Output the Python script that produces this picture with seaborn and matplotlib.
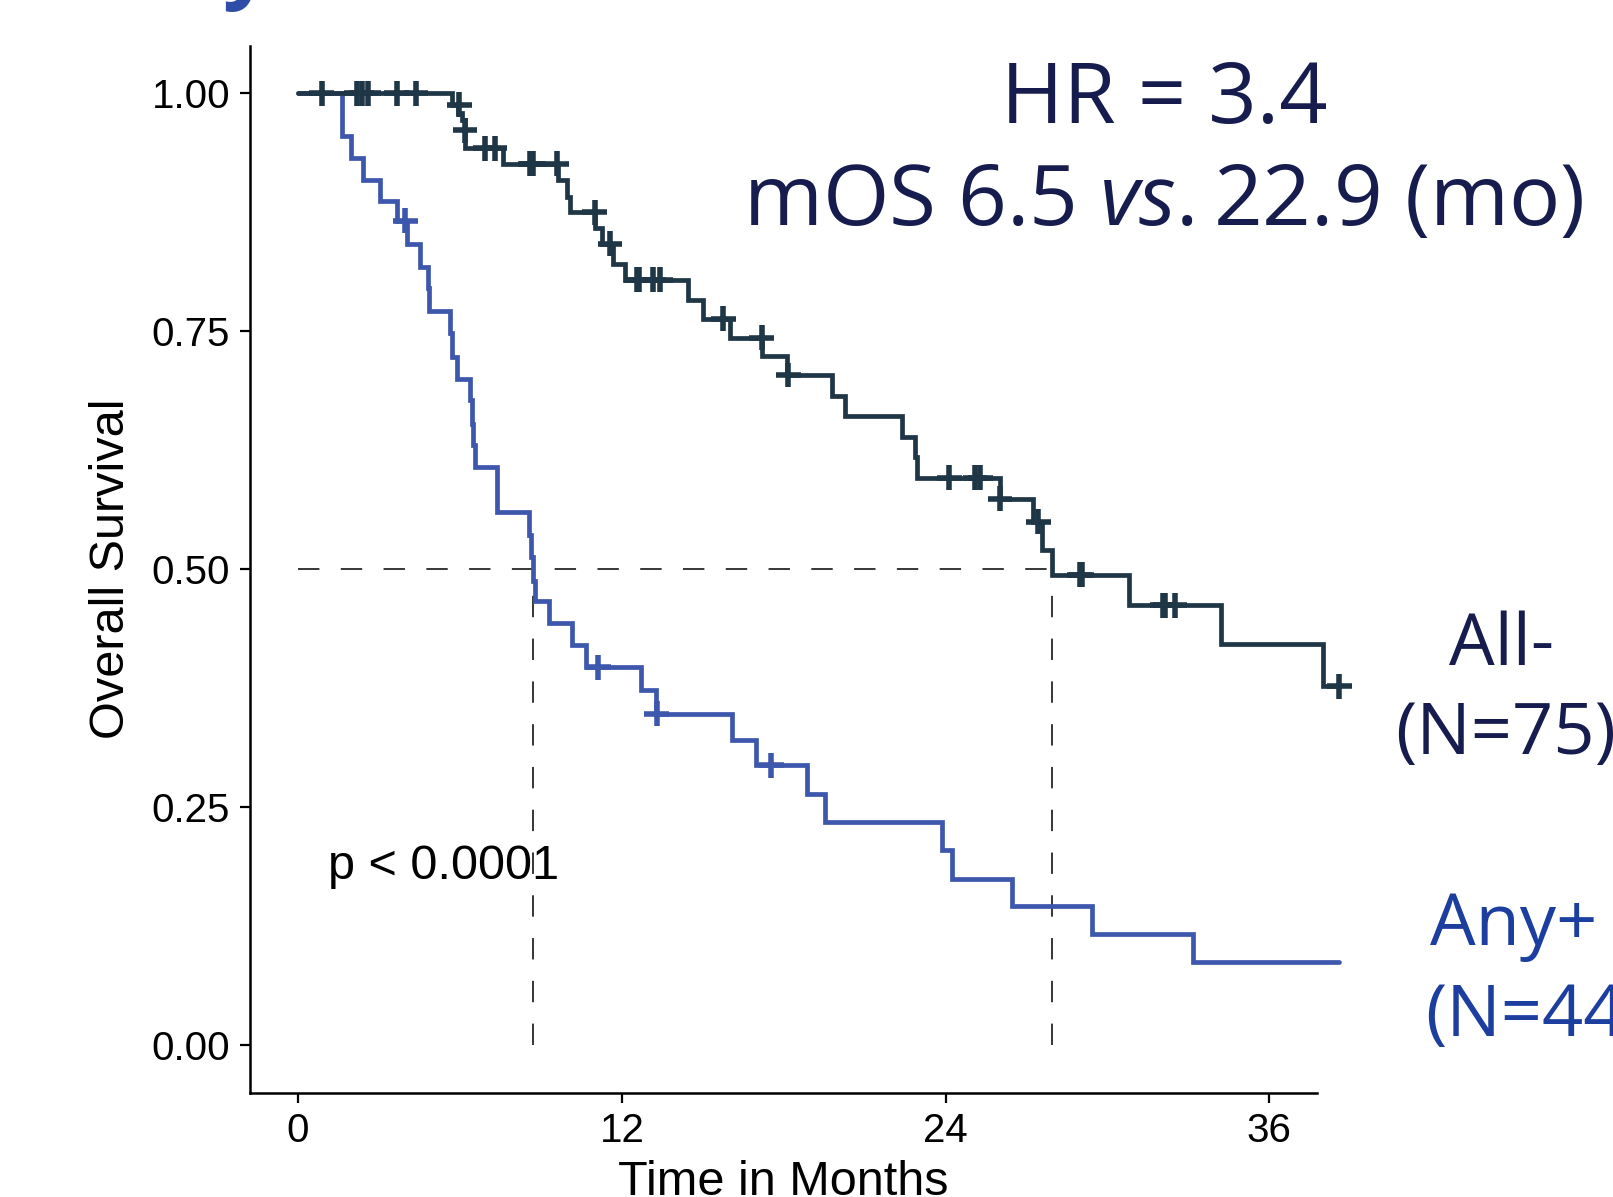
"""
Kaplan-Meier overall survival: Any+ vs All- (seaborn re-draw)
"""
import numpy as np
import pandas as pd
import matplotlib
matplotlib.use("Agg")
import matplotlib.pyplot as plt
from matplotlib.ticker import FormatStrFormatter
import seaborn as sns

# ── data (months, survival after each step)
t_any = [0, 1.62, 1.95, 2.42, 3.04, 3.68, 4.03, 4.52, 4.81, 4.86, 5.63, 5.70, 5.88,
         6.37, 6.43, 6.47, 6.56, 7.36, 8.57, 8.62, 8.70, 8.78, 9.31, 10.14, 10.67,
         12.70, 13.25, 16.10, 16.99, 18.85, 19.52, 23.88, 24.24, 26.47, 29.44, 33.17, 38.6]
s_any = [1.0, 0.955, 0.932, 0.909, 0.887, 0.866, 0.842, 0.818, 0.795, 0.771, 0.748, 0.723, 0.700,
         0.678, 0.653, 0.630, 0.607, 0.560, 0.536, 0.513, 0.488, 0.467, 0.443, 0.420, 0.397,
         0.373, 0.348, 0.321, 0.294, 0.264, 0.234, 0.205, 0.175, 0.146, 0.117, 0.087, 0.087]

t_all = [0, 5.70, 5.94, 6.07, 6.19, 7.61, 9.65, 9.96, 10.08, 11.02, 11.26, 11.69, 12.10,
         14.47, 15.00, 16.01, 17.21, 18.11, 19.80, 20.27, 22.40, 22.88, 22.93, 26.00,
         27.25, 27.56, 27.93, 30.80, 34.20, 38.00, 38.55]
s_all = [1.0, 0.988, 0.979, 0.972, 0.942, 0.926, 0.909, 0.891, 0.875, 0.858, 0.842, 0.821, 0.804,
         0.783, 0.763, 0.743, 0.724, 0.704, 0.682, 0.661, 0.639, 0.618, 0.596, 0.574,
         0.550, 0.520, 0.494, 0.462, 0.421, 0.377, 0.377]

# censoring ticks
c_any_t = [3.97, 11.13, 13.30, 17.54]
c_any_s = [0.866, 0.397, 0.348, 0.294]
c_all_t = [0.88, 2.18, 2.36, 2.61, 3.66, 4.37, 5.97, 6.19, 6.93, 7.30, 8.60, 8.66, 8.72, 9.59,
           11.00, 11.56, 12.55, 12.65, 13.17, 13.42, 15.76, 17.19, 18.17, 24.14, 25.09, 25.28,
           26.02, 27.43, 28.98, 29.05, 32.05, 32.15, 32.50, 38.60]
c_all_s = [1.0, 1.0, 1.0, 1.0, 1.0, 1.0, 0.988, 0.961, 0.942, 0.942, 0.926, 0.926, 0.926, 0.926,
           0.875, 0.842, 0.804, 0.804, 0.804, 0.804, 0.763, 0.743, 0.704, 0.596, 0.596, 0.596,
           0.574, 0.550, 0.494, 0.494, 0.462, 0.462, 0.462, 0.377]

median_any = 8.70
median_all = 27.93

C_ANY  = "#3d57ad"
C_ALL  = "#1f3646"
NAVY   = "#161c4e"
ROYAL  = "#1b3e9f"

curves = pd.concat([
    pd.DataFrame({"time": t_any, "surv": s_any, "group": "Any+"}),
    pd.DataFrame({"time": t_all, "surv": s_all, "group": "All-"}),
])
cens = pd.concat([
    pd.DataFrame({"time": c_any_t, "surv": c_any_s, "group": "Any+"}),
    pd.DataFrame({"time": c_all_t, "surv": c_all_s, "group": "All-"}),
])
pal = {"Any+": C_ANY, "All-": C_ALL}

sns.set_theme(style="ticks")
plt.rcParams["font.family"] = ["Liberation Sans", "DejaVu Sans"]
plt.rcParams["mathtext.fontset"] = "custom"
plt.rcParams["mathtext.rm"] = "Open Sans"
plt.rcParams["mathtext.it"] = "Open Sans:italic"

W, H = 1613, 1197
fig = plt.figure(figsize=(W / 100, H / 100), dpi=100)
ax = fig.add_axes([249.5 / W, 1 - 1092.7 / H, (1316.8 - 249.5) / W, (1092.7 - 45.7) / H])

# median guides
ax.plot([0, median_all], [0.5, 0.5], color="black", lw=1.1, dashes=(14, 14), zorder=1)
for m in (median_any, median_all):
    ax.plot([m, m], [0, 0.5], color="black", lw=1.1, dashes=(14, 14), zorder=1)
n_guides = len(ax.lines)

sns.lineplot(data=curves, x="time", y="surv", hue="group", palette=pal,
             drawstyle="steps-post", estimator=None, sort=False,
             legend=False, ax=ax, clip_on=False, zorder=2)
for ln in ax.lines[n_guides:]:
    ln.set_linewidth(3.4)
    ln.set_solid_joinstyle("miter")

sns.scatterplot(data=cens, x="time", y="surv", hue="group", palette=pal,
                marker="+", s=320, legend=False, ax=ax,
                clip_on=False, zorder=3)
for coll in ax.collections:
    coll.set_linewidth(4.0)

ax.set_xlim(-1.80, 37.76)
ax.set_ylim(-0.05, 1.05)
ax.set_xticks([0, 12, 24, 36])
ax.set_yticks([0, 0.25, 0.5, 0.75, 1.0])
ax.yaxis.set_major_formatter(FormatStrFormatter("%.2f"))
ax.tick_params(labelsize=29, length=7, width=1.6, pad=7, colors="black")
for s in ("left", "bottom"):
    ax.spines[s].set_linewidth(1.8)
    ax.spines[s].set_color("black")
sns.despine(ax=ax)

ax.set_xlabel("Time in Months", fontsize=35, color="black")
ax.xaxis.label.set_va("baseline")
ax.xaxis.set_label_coords(0.5, (1092.7 - 1195) / 1047)
ax.set_ylabel("Overall Survival", fontsize=35, color="black")
ax.yaxis.label.set_va("center")
ax.yaxis.set_label_coords((112 - 249.5) / 1067.3, 0.5)

ax.text(1.1, 0.1747, "p < 0.0001", fontsize=35, color="black", va="baseline", ha="left")

def ftext(x, y, s, **kw):
    fig.text(x / W, 1 - y / H, s, va="baseline", family=["Open Sans", "DejaVu Sans"], **kw)

ftext(1164, 123, "HR = 3.4", fontsize=61, color=NAVY, ha="center")
ftext(1163, 225, r"mOS 6.5 $\mathit{vs.}$22.9 (mo)", fontsize=61.5, color=NAVY, ha="center")
ftext(1502, 665, "All-", fontsize=52, color=NAVY, ha="center")
ftext(1506, 754, "(N=75)", fontsize=52, color=NAVY, ha="center")
ftext(1514, 945, "Any+", fontsize=52, color=ROYAL, ha="center")
ftext(1425, 1036, "(N=44)", fontsize=52, color=ROYAL, ha="left")
# leftover of the slide title above the plot
ftext(222, -8, "y", fontsize=61, color="#2f4da6", ha="left", fontweight="bold")

fig.savefig("out.png", dpi=100)
